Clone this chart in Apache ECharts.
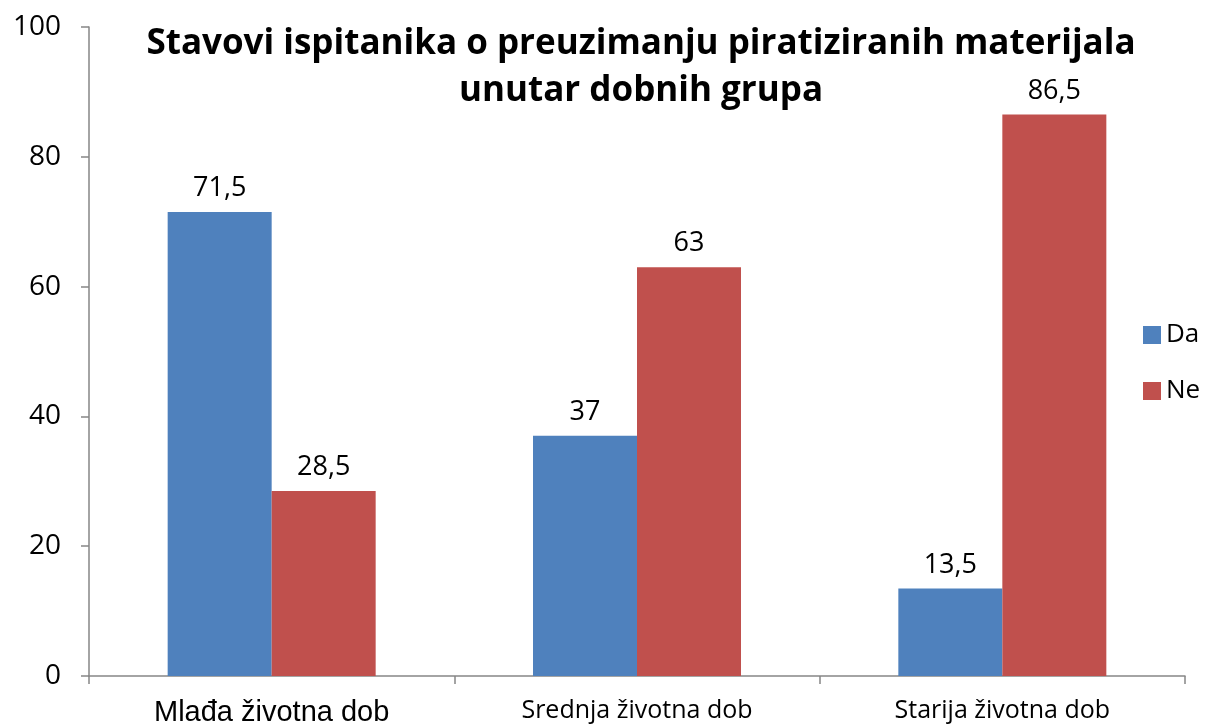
<!DOCTYPE html>
<html>
<head>
<meta charset="utf-8">
<style>
  html, body { margin: 0; padding: 0; background: #fff; }
  #chart { width: 1205px; height: 727px; }
</style>
<script src="https://cdn.jsdelivr.net/npm/echarts@6/dist/echarts.min.js"></script>
</head>
<body>
<div id="chart"></div>
<script>
var categories = ['Mlađa životna dob', 'Srednja životna dob', 'Starija životna dob']
var da = [71.5, 37, 13.5]
var ne = [28.5, 63, 86.5]

var fontFam = '"Open Sans", sans-serif'

function commaLabel(p) {
  return String(p.value).replace('.', ',')
}

var chart = echarts.init(document.getElementById('chart'))
chart.setOption({
  animation: false,
  title: {
    text: 'Stavovi ispitanika o preuzimanju piratiziranih materijala\nunutar dobnih grupa',
    left: 636,
    top: 16,
    textAlign: 'center',
    textStyle: {
      fontFamily: fontFam,
      fontSize: 35,
      fontWeight: 'bold',
      color: '#000',
      lineHeight: 47
    }
  },
  legend: {
    orient: 'vertical',
    left: 1138,
    top: 317,
    itemWidth: 18,
    itemHeight: 18,
    itemGap: 30,
    icon: 'rect',
    textStyle: { fontFamily: fontFam, fontSize: 26, color: '#000' },
    data: ['Da', 'Ne']
  },
  grid: {
    left: 89,
    right: 20,
    top: 27,
    bottom: 50,
    containLabel: false
  },
  xAxis: {
    type: 'category',
    data: categories,
    axisLine: { lineStyle: { color: '#868686', width: 1.5 } },
    axisTick: { show: true, length: 8, lineStyle: { color: '#868686', width: 1.5 } },
    axisLabel: {
      fontFamily: fontFam,
      fontSize: 25,
      color: '#000',
      margin: 22,
      formatter: function (v, i) {
        return i === 0 ? '{a|' + v + '}' : v
      },
      rich: {
        a: { fontFamily: '"Liberation Sans", Arial, sans-serif', fontSize: 29, color: '#000' }
      }
    }
  },
  yAxis: {
    type: 'value',
    min: 0,
    max: 100,
    interval: 20,
    axisLine: { show: true, lineStyle: { color: '#868686', width: 1.5 } },
    axisTick: { show: true, length: 8, lineStyle: { color: '#868686', width: 1.5 } },
    splitLine: { show: false },
    axisLabel: { fontFamily: fontFam, fontSize: 28, color: '#000', margin: 28 }
  },
  series: [
    {
      name: 'Da',
      type: 'bar',
      data: da,
      barWidth: 104,
      barGap: '0%',
      itemStyle: { color: '#4F81BD' },
      label: {
        show: true,
        position: 'top',
        distance: 10,
        fontFamily: fontFam,
        fontSize: 27,
        color: '#000',
        formatter: commaLabel
      }
    },
    {
      name: 'Ne',
      type: 'bar',
      data: ne,
      barWidth: 104,
      barGap: '0%',
      itemStyle: { color: '#C0504D' },
      label: {
        show: true,
        position: 'top',
        distance: 10,
        fontFamily: fontFam,
        fontSize: 27,
        color: '#000',
        formatter: commaLabel
      }
    }
  ]
})
</script>
</body>
</html>
